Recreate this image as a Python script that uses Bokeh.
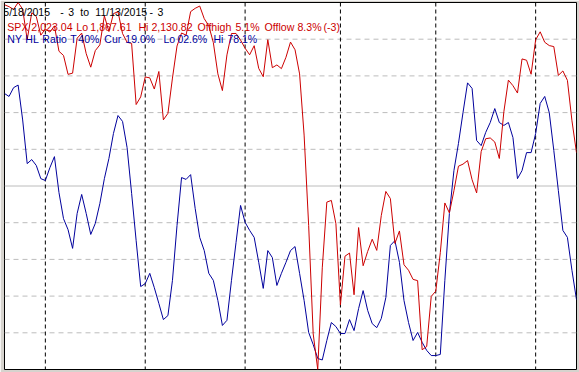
from bokeh.plotting import figure
from bokeh.models import Range1d, Span, Label
from bokeh.embed import file_html
from bokeh.resources import INLINE

# ---- data (trading days 5/18/2015 .. 11/13/2015) ----
spx_close = [
    2129.20, 2127.83, 2125.85, 2130.82, 2126.06, 2104.20, 2123.48, 2120.79, 2107.39,
    2111.73, 2109.60, 2114.07, 2095.84, 2092.83, 2079.28, 2080.15, 2105.20, 2108.86,
    2094.11, 2084.43, 2096.29, 2100.44, 2121.24, 2109.99, 2122.85, 2124.20, 2108.58,
    2102.31, 2101.49, 2057.64, 2063.11,
    2077.42, 2076.78, 2068.76, 2081.34, 2046.68, 2051.31, 2076.62, 2099.60, 2108.95,
    2107.40, 2124.29, 2126.64, 2128.28, 2119.21, 2114.15, 2102.15, 2079.65, 2067.64,
    2093.25, 2108.57, 2108.63, 2103.84,
    2098.04, 2093.32, 2099.84, 2083.56, 2077.57, 2104.18, 2084.07, 2086.05, 2083.39,
    2091.54, 2102.44, 2096.92, 2079.61, 2035.73, 1970.89, 1893.21, 1867.61, 1940.51,
    1987.66, 1988.87, 1972.18,
    1913.85, 1948.86, 1951.13, 1921.22, 1969.41, 1942.04, 1952.29, 1961.05, 1953.03,
    1978.09, 1995.31, 1990.20, 1958.03, 1966.97, 1942.74, 1938.76, 1932.24, 1931.34,
    1881.77, 1884.09, 1920.03,
    1923.82, 1951.36, 1987.05, 1979.92, 1995.83, 2013.43, 2014.89, 2017.46, 2003.69,
    1994.24, 2023.86, 2033.11, 2033.66, 2030.77, 2018.94, 2052.51, 2075.15, 2071.18,
    2065.89, 2090.35, 2089.41, 2079.36,
    2104.05, 2109.79, 2102.31, 2099.93, 2099.20, 2078.58, 2081.72, 2075.00, 2045.97,
    2023.04,
]

hl_ratio = [
    75.2, 74.4, 76.8, 77.5, 68.0, 56.1, 57.2, 55.6, 52.0,
    51.5, 55.0, 58.0, 48.2, 41.1, 38.1, 33.0, 42.5, 47.7,
    42.5, 36.8, 39.8, 45.2, 52.0, 57.5, 64.3, 69.2, 67.6,
    60.5, 48.0, 35.1, 22.6,
    23.4, 26.2, 22.3, 18.0, 13.6, 14.7, 24.3, 39.2, 52.3,
    51.8, 53.1, 43.9, 36.0, 32.4, 26.2, 24.3, 18.8, 12.0,
    13.4, 24.3, 34.6, 44.7,
    40.1, 37.9, 36.0, 29.2, 22.1, 32.4, 30.5, 22.9, 26.2,
    29.2, 32.4, 33.5, 26.2, 18.8, 10.1, 6.8, 3.0, 2.6,
    7.9, 12.8, 11.7,
    9.8, 9.8, 13.6, 10.6, 16.6, 21.5, 16.1, 12.5, 11.4,
    13.9, 19.6, 33.8, 35.1, 29.2, 18.8, 12.8, 7.9, 10.1,
    7.4, 5.2, 3.8,
    3.8, 4.1, 24.3, 42.5, 54.2, 61.6, 70.0, 78.1, 76.6,
    62.4, 61.0, 64.6, 67.3, 71.1, 67.3, 66.5, 67.3, 63.2,
    52.0, 54.2, 59.1, 59.1,
    64.3, 72.5, 74.4, 70.0, 59.7, 48.8, 37.9, 36.0, 27.0,
    19.0,
]

days = list(range(len(spx_close)))
month_starts = [9, 31, 53, 74, 95, 117]          # 6/1, 7/1, 8/3, 9/1, 10/1, 11/2
grid_levels = [10, 20, 30, 40, 60, 70, 80, 90]
mid_level = 50
spx_lo, spx_hi = 1867.61, 2130.82

header_words = ["5/18/2015", "-", "3", "to", "11/13/2015", "-", "3"]
spx_words = ["SPX", "2,023.04", "Lo", "1,867.61", "Hi", "2,130.82",
             "Offhigh", "5.1%", "Offlow", "8.3%", "(-3)"]
hl_words = ["NY", "HL", "Ratio", "T", "40%", "Cur", "19.0%",
            "Lo", "02.6%", "Hi", "78.1%"]

# ---- style / layout ----
RED = "#cc0000"
BLUE = "#00009c"
GRID = "#bcbcbc"
FONT = "Liberation Sans"

p = figure(width=579, height=372,
           x_range=Range1d(0, len(days) - 1), y_range=Range1d(0, 100),
           output_backend="svg", toolbar_location=None,
           x_axis_location=None, y_axis_location=None,
           min_border_left=4, min_border_right=3,
           min_border_top=2, min_border_bottom=3)
p.extra_y_ranges = {"spx": Range1d(spx_lo, spx_hi)}
p.grid.visible = False
p.background_fill_color = "white"
p.border_fill_color = "#d6d3ce"
p.outline_line_color = "black"
p.outline_line_width = 1

for g in grid_levels:
    p.add_layout(Span(location=g, dimension="width", line_color=GRID,
                      line_dash="5 4", line_width=1, level="underlay"))
p.add_layout(Span(location=mid_level, dimension="width", line_color=GRID,
                  line_width=1, level="underlay"))
for m in month_starts:
    p.add_layout(Span(location=m, dimension="height", line_color="black",
                      line_dash="4 3", line_width=1, level="underlay"))

p.line(days, hl_ratio, line_color=BLUE, line_width=1)
p.line(days, spx_close, line_color=RED, line_width=1, y_range_name="spx")

# text positions (reference pixels -> day / percent units)
def px_to_day(px):
    return (px - 4.2) / 4.537

def py_to_pct(py):
    return (369 - py) / 3.67

def add_words(words, xs, base_y, color, size):
    for t, xx in zip(words, xs):
        p.add_layout(Label(x=px_to_day(xx), y=py_to_pct(base_y), text=t,
                           text_font=FONT, text_font_size=size, text_color=color,
                           text_baseline="alphabetic"))

add_words(header_words, [3, 60, 68, 80, 95, 149, 157], 11, "black", "10.5px")
add_words(spx_words, [7, 31, 76, 90, 138, 151, 197, 235, 264, 297, 323],
          26, RED, "10.6px")
add_words(hl_words, [7, 25, 42, 70, 78, 104, 125, 163, 177, 213, 227],
          38.5, BLUE, "10.5px")

open("out.html", "w").write(file_html(p, INLINE))
